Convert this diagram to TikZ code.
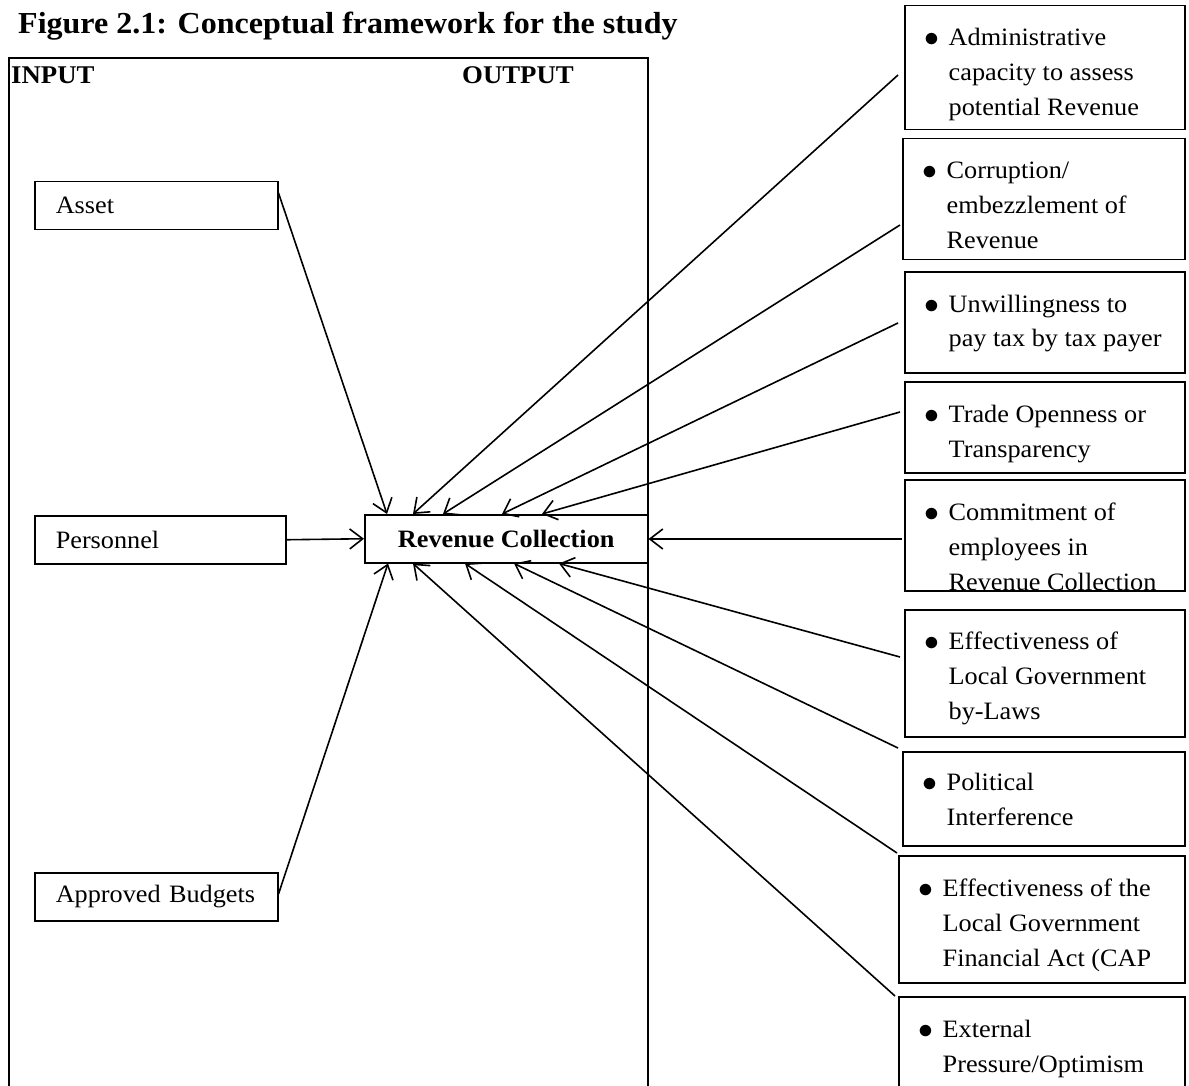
\documentclass[tikz,border=0pt]{standalone}
\usepackage{fontspec}
\setmainfont{Liberation Serif}[FakeStretch=1.05]
\usetikzlibrary{arrows.meta,calc}
\newcommand\bodyfont{\fontsize{25}{35}\selectfont}
\newcommand\rlist[1]{\begin{tabular}[t]{@{}p{23.5pt}@{}l@{}}\hspace{-1pt}\raisebox{-1pt}{\scalebox{1.2}{$\bullet$}} & #1\end{tabular}}
\begin{document}
\begin{tikzpicture}[x=1pt,y=-1pt,
  box/.style={draw, line width=1.5pt, rectangle, inner sep=0pt, anchor=north west},
  lbox/.style={box, align=left, font=\bodyfont, inner xsep=21pt, inner ysep=0pt, text width=#1, minimum height=48},
  rbox/.style={box, minimum width=#1},
  rtext/.style={inner sep=0pt, anchor=base west, font=\bodyfont},
  arr/.style={line width=1.6pt, -{Straight Barb[length=13pt,width=20pt,line width=1.6pt]}},
  frame/.style={line width=2.4pt},
  head/.style={inner sep=0pt, anchor=base west, font=\bfseries\fontsize{25.5}{30}\selectfont}
  ]
\useasboundingbox (0,0) rectangle (1189,1086);
\clip (0,0) rectangle (1189,1086);

% title and frame
\node[inner sep=0pt, anchor=base west, font=\bfseries\fontsize{30.5}{36}\selectfont] (title) at (18,34) {Figure 2.1: Conceptual framework for the study};
\draw[frame] (9,1100) -- (9,58) -- (648,58) -- (648,1100);
\node[head] (input) at (11,84) {INPUT};
\node[head] (output) at (462,84) {OUTPUT};

% left boxes
\node[lbox=201] (asset) at (34,181) {Asset};
\node[lbox=209] (pers) at (34,515) {Personnel};
\node[lbox=201] (budg) at (34,872) {Approved Budgets};

% centre
\node[box, minimum width=283, minimum height=48, font=\bfseries\fontsize{25}{30}\selectfont] (rc) at (364,514) {Revenue Collection};

% right boxes
\node[rbox=280, minimum height=124] (r1) at (904,5) {};
\node[rtext] (r1t) at ($(r1.north west)+(21,41)$) {\rlist{Administrative\\ & capacity to assess\\ & potential Revenue}};
\node[rbox=282, minimum height=121] (r2) at (902,138) {};
\node[rtext] (r2t) at ($(r2.north west)+(21,41)$) {\rlist{Corruption/\\ & embezzlement of\\ & Revenue}};
\node[rbox=280, minimum height=101] (r3) at (904,271) {};
\node[rtext] (r3t) at ($(r3.north west)+(21,41)$) {\rlist{Unwillingness to\\ & pay tax by tax payer}};
\node[rbox=280, minimum height=91] (r4) at (904,381) {};
\node[rtext] (r4t) at ($(r4.north west)+(21,41)$) {\rlist{Trade Openness or\\ & Transparency}};
\node[rbox=280, minimum height=111] (r5) at (904,479) {};
\node[rtext] (r5t) at ($(r5.north west)+(21,41)$) {\rlist{Commitment of\\ & employees in\\ & Revenue Collection}};
\node[rbox=280, minimum height=127] (r6) at (904,609) {};
\node[rtext] (r6t) at ($(r6.north west)+(21,40)$) {\rlist{Effectiveness of\\ & Local Government\\ & by-Laws}};
\node[rbox=282, minimum height=94] (r7) at (902,751) {};
\node[rtext] (r7t) at ($(r7.north west)+(21,39)$) {\rlist{Political\\ & Interference}};
\node[rbox=286, minimum height=127] (r8) at (898,855) {};
\node[rtext] (r8t) at ($(r8.north west)+(21,41)$) {\rlist{Effectiveness of the\\ & Local Government\\ & Financial Act (CAP}};
\node[rbox=286, minimum height=110] (r9) at (898,996) {};
\node[rtext] (r9t) at ($(r9.north west)+(21,41)$) {\rlist{External\\ & Pressure/Optimism}};

% connectors from inputs
\draw[arr] ($(asset.north east)+(0,12)$) -- ($(rc.north west)+(23,0)$);
\draw[arr] (pers.east) -- (rc.west);
\draw[arr] ($(budg.north east)+(0,22)$) -- ($(rc.south west)+(24,0)$);

% connectors from factors
\coordinate (c5) at ($(r5.north west)+(-2,60)$);
\draw[arr] ($(r1.north west)+(-6,70)$) -- ($(rc.north west)+(49,0)$);
\draw[arr] ($(r2.north west)+(-2,87)$) -- ($(rc.north west)+(79,0)$);
\draw[arr] ($(r3.north west)+(-6,52)$) -- ($(rc.north west)+(138,0)$);
\draw[arr] ($(r4.north west)+(-4,31)$) -- ($(rc.north west)+(178,0)$);
\draw[arr] (c5) -- (c5 -| rc.east);
\draw[arr] ($(r6.north west)+(-4,48)$) -- ($(rc.south west)+(195,0)$);
\draw[arr] ($(r7.north west)+(-4,-3)$) -- ($(rc.south west)+(150,0)$);
\draw[arr] ($(r8.north west)+(-1,-2)$) -- ($(rc.south west)+(101,0)$);
\draw[arr] ($(r9.north west)+(-3,0)$) -- ($(rc.south west)+(49,0)$);
\end{tikzpicture}
\end{document}
